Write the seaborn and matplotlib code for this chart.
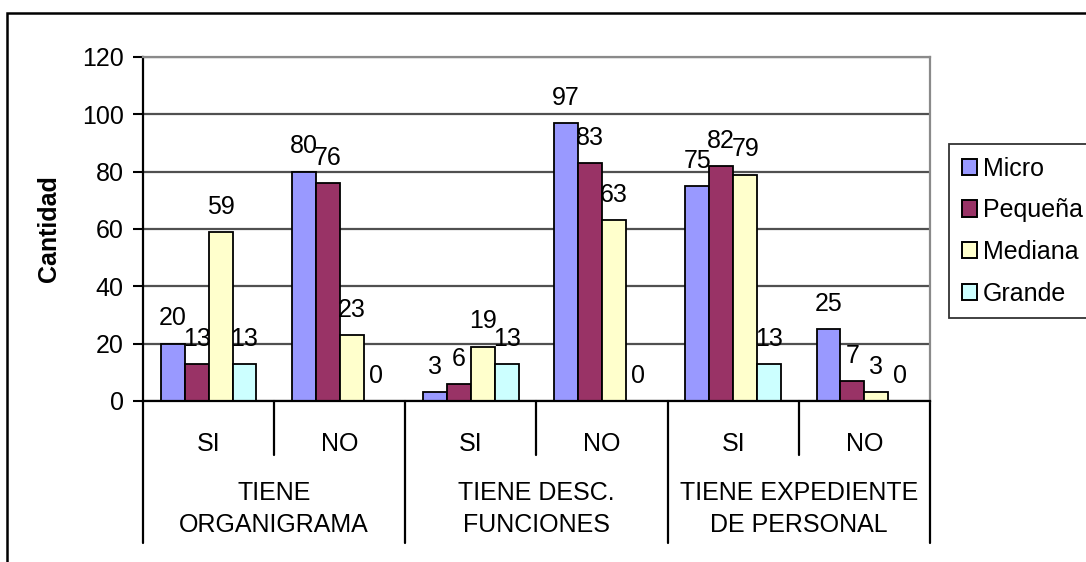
import pandas as pd
import matplotlib.pyplot as plt
import seaborn as sns
from matplotlib.patches import Patch, Rectangle

# data
grupos = ['TIENE\nORGANIGRAMA', 'TIENE DESC.\nFUNCIONES', 'TIENE EXPEDIENTE\nDE PERSONAL']
respuestas = ['SI', 'NO']
tamanos = ['Micro', 'Pequeña', 'Mediana', 'Grande']
micro = [20, 80, 3, 97, 75, 25]
pequena = [13, 76, 6, 83, 82, 7]
mediana = [59, 23, 19, 63, 79, 3]
grande = [13, 0, 13, 0, 13, 0]
colores = ['#9999FF', '#993366', '#FFFFCC', '#CCFFFF']

# build long table
cats = [f'{g}|{r}' for g in grupos for r in respuestas]
rows = []
for t, vals in zip(tamanos, [micro, pequena, mediana, grande]):
    for c, v in zip(cats, vals):
        rows.append({'cat': c, 'tamano': t, 'valor': v})
df = pd.DataFrame(rows)

sns.set_style('white')
plt.rcParams['font.family'] = ['Liberation Sans', 'DejaVu Sans']
plt.rcParams.update({'text.color': 'black', 'axes.labelcolor': 'black',
                     'xtick.color': 'black', 'ytick.color': 'black'})
fs = 18

fig = plt.figure(figsize=(10.86, 5.62), dpi=100)
ax = fig.add_axes([143 / 1086, 1 - 401 / 562, (930 - 143) / 1086, 344 / 562])

sns.barplot(data=df, x='cat', y='valor', hue='tamano', order=cats, hue_order=tamanos,
            palette=dict(zip(tamanos, colores)), edgecolor='black', linewidth=1.3,
            width=0.73, gap=0, saturation=1, legend=False, ax=ax)

for cont in ax.containers:
    ax.bar_label(cont, padding=9.5, fontsize=fs)

# axis format
ax.set_ylim(0, 120)
ax.set_xlim(-0.5, 5.5)
ax.set_yticks(range(0, 121, 20))
ax.tick_params(axis='y', labelsize=fs, length=7, width=1.5, direction='out', pad=7, left=True)
ax.yaxis.grid(True, color='#505050', linewidth=1.6)
ax.set_axisbelow(True)
ax.set_xticks(range(6))
ax.set_xticklabels(respuestas * 3, fontsize=fs)
ax.tick_params(axis='x', length=0, pad=22)
ax.set_xlabel('')
ax.set_ylabel('Cantidad', fontsize=18, fontweight='bold')
ax.yaxis.set_label_coords(-0.104, 0.5)

for s in ['left', 'bottom']:
    ax.spines[s].set_color('black')
    ax.spines[s].set_linewidth(1.6)
for s in ['top', 'right']:
    ax.spines[s].set_color('#8a8a8a')
    ax.spines[s].set_linewidth(1.6)

# multi-level category axis
trans = ax.get_xaxis_transform()
for b in [-0.5, 1.5, 3.5, 5.5]:
    ax.plot([b, b], [0, -0.413], transform=trans, clip_on=False, color='black', lw=1.6)
for b in [0.5, 2.5, 4.5]:
    ax.plot([b, b], [0, -0.157], transform=trans, clip_on=False, color='black', lw=1.6)
for i, g in enumerate(grupos):
    ax.text(2 * i + 0.5, -0.314, g, transform=trans, ha='center', va='center',
            fontsize=fs, linespacing=1.4, multialignment='center')

# legend
handles = [Patch(facecolor=c, edgecolor='black', linewidth=1.4) for c in colores]
fig.legend(handles, tamanos, loc='upper left', bbox_to_anchor=(949 / 1086, 1 - 144 / 562),
           frameon=True, fancybox=False, edgecolor='black', fontsize=fs,
           handlelength=0.62, handleheight=0.62, handletextpad=0.24, labelspacing=0.71,
           borderpad=0.5, borderaxespad=0)
fig.legends[0].get_frame().set_linewidth(1.3)

# outer chart border (cropped on right and bottom)
fig.patches.append(Rectangle((7 / 1086, -0.1), 1.2, 1.1 - 13 / 562, transform=fig.transFigure,
                             fill=False, edgecolor='black', linewidth=1.8))

fig.savefig('out.png', dpi=100)
